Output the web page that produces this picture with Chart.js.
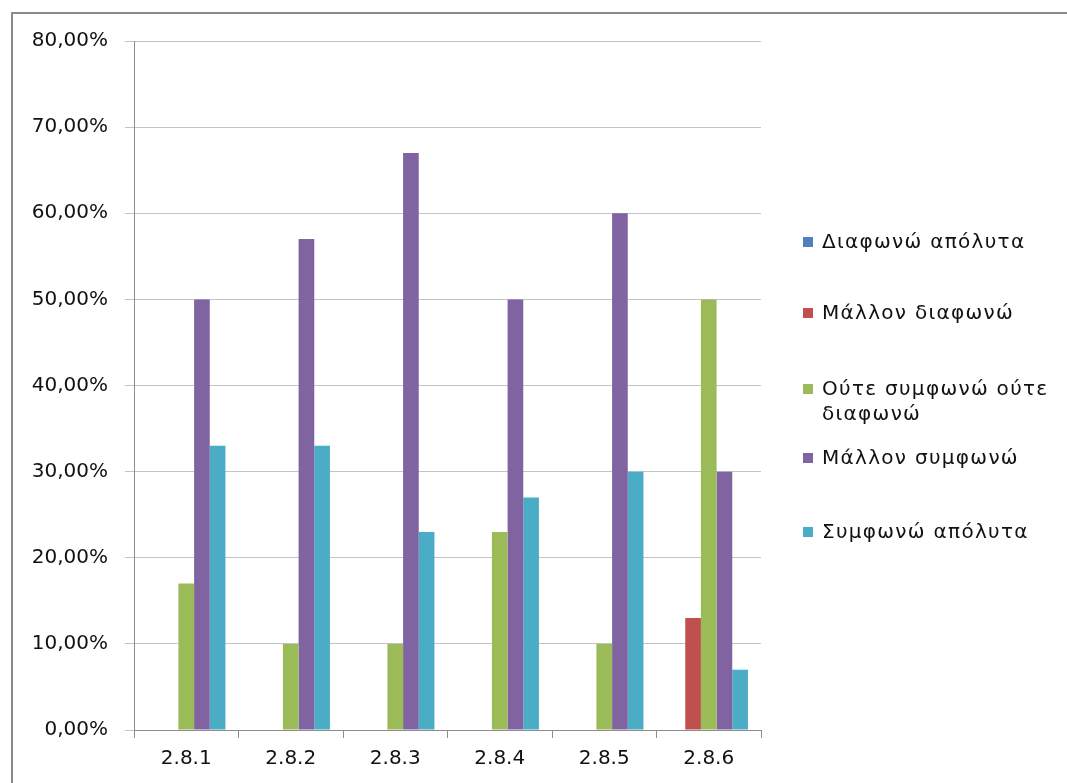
<!DOCTYPE html>
<html>
<head>
<meta charset="utf-8">
<script src="https://cdn.jsdelivr.net/npm/chart.js@4/dist/chart.umd.min.js"></script>
<style>
  html, body { margin: 0; padding: 0; background: #fff; overflow: hidden; }
  #wrap { position: relative; width: 1067px; height: 783px; }
  #frame { position: absolute; left: 11px; top: 12px; width: 1100px; height: 800px; border: 2px solid #8a8a8a; }
  #myChart { position: absolute; left: 0; top: 0; }
  #legend { position: absolute; left: 803px; top: 0; font-family: "DejaVu Sans", sans-serif; font-size: 20px; letter-spacing: 1.3px; color: #111; }
  .item { position: absolute; left: 0; white-space: nowrap; line-height: 25px; }
  .box { position: absolute; left: 0; top: 8px; width: 10px; height: 10px; }
  .txt { position: absolute; left: 19px; top: 0; }
</style>
</head>
<body>
<div id="wrap">
  <div id="frame"></div>
  <canvas id="myChart" width="1067" height="783"></canvas>
  <div id="legend"></div>
</div>
<script>
var categories = ['2.8.1', '2.8.2', '2.8.3', '2.8.4', '2.8.5', '2.8.6'];
var seriesNames = ['Διαφωνώ απόλυτα', 'Μάλλον διαφωνώ', 'Ούτε συμφωνώ ούτε\nδιαφωνώ', 'Μάλλον συμφωνώ', 'Συμφωνώ απόλυτα'];
var seriesColors = ['#4F81BD', '#C0504D', '#9BBB59', '#8064A2', '#4BACC6'];
var diafonoApoluta = [0, 0, 0, 0, 0, 0];
var mallonDiafono = [0, 0, 0, 0, 0, 13];
var outeOute = [17, 10, 10, 23, 10, 50];
var mallonSymfono = [50, 57, 67, 50, 60, 30];
var symfonoApoluta = [33, 33, 23, 27, 30, 7];
var yTicks = [0, 10, 20, 30, 40, 50, 60, 70, 80];

var allSeries = [diafonoApoluta, mallonDiafono, outeOute, mallonSymfono, symfonoApoluta];
var legendTops = [229, 300, 376, 445, 519];

var datasets = allSeries.map(function (vals, i) {
    return {
        label: seriesNames[i].replace('\n', ' '),
        data: vals,
        backgroundColor: seriesColors[i],
        borderWidth: 0
    };
});

// html legend on the right
var legend = document.getElementById('legend');
seriesNames.forEach(function (name, i) {
    var item = document.createElement('div');
    item.className = 'item';
    item.style.top = legendTops[i] + 'px';
    var box = document.createElement('div');
    box.className = 'box';
    box.style.background = seriesColors[i];
    var txt = document.createElement('div');
    txt.className = 'txt';
    txt.innerHTML = name.split('\n').join('<br>');
    item.appendChild(box);
    item.appendChild(txt);
    legend.appendChild(item);
});

var tickFont = { family: 'DejaVu Sans', size: 20 };

var ctx = document.getElementById('myChart').getContext('2d');
var barChart = new Chart(ctx, {
    type: 'bar',
    data: {
        labels: categories,
        datasets: datasets
    },
    options: {
        responsive: false,
        animation: false,
        layout: {
            padding: { left: 0, top: 41, right: 306, bottom: 0 }
        },
        datasets: {
            bar: {
                categoryPercentage: 0.75,
                barPercentage: 1
            }
        },
        scales: {
            x: {
                afterFit: function (scale) { scale.height = 53; },
                grid: {
                    offset: true,
                    drawOnChartArea: false,
                    tickLength: 8,
                    color: '#8c8c8c'
                },
                border: { color: '#8c8c8c' },
                ticks: {
                    font: tickFont,
                    color: '#111',
                    padding: 9
                }
            },
            y: {
                min: 0,
                max: 80,
                afterFit: function (scale) { scale.width = 134; },
                afterBuildTicks: function (scale) {
                    scale.ticks = yTicks.map(function (v) { return { value: v }; });
                },
                grid: {
                    color: '#c4c4c4',
                    tickColor: '#c4c4c4',
                    tickLength: 9
                },
                border: { color: '#8c8c8c' },
                ticks: {
                    font: tickFont,
                    color: '#111',
                    padding: 17,
                    callback: function (v) {
                        return v.toFixed(2).replace('.', ',') + '%';
                    }
                }
            }
        },
        plugins: {
            legend: { display: false },
            tooltip: { enabled: false }
        }
    }
});
</script>
</body>
</html>
